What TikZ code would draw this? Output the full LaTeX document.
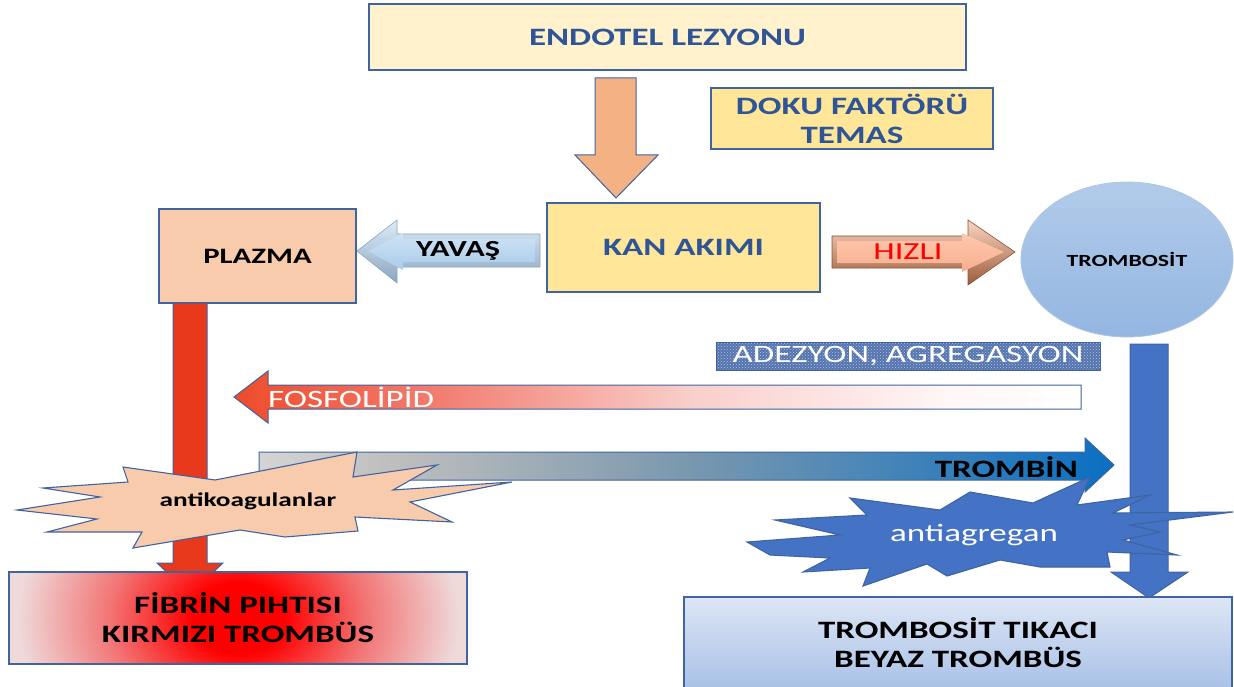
\documentclass[tikz,border=0pt]{standalone}
\usepackage{fontspec}
\setmainfont{Carlito}[FakeStretch=1.4]
\usetikzlibrary{shapes.geometric,patterns}

\definecolor{edgeblue}{HTML}{3F64A0}
\definecolor{textblue}{HTML}{2F5597}
\definecolor{cream}{HTML}{FFF2CC}
\definecolor{softyellow}{HTML}{FFE699}
\definecolor{peachbox}{HTML}{F8CBAD}
\definecolor{peacharrow}{HTML}{F4B183}
\definecolor{redarrow}{HTML}{E8391D}
\definecolor{plateblue}{HTML}{4472C4}
\definecolor{fosred}{HTML}{EE4B2B}
\definecolor{fossalmon}{HTML}{F27D70}
\definecolor{fospink}{HTML}{F9CFCB}
\definecolor{fospale}{HTML}{FFF6F6}
\definecolor{tromgray}{HTML}{D4D4D4}
\definecolor{tromgray2}{HTML}{BEBEBE}
\definecolor{trommid}{HTML}{7A98AE}
\definecolor{tromblue}{HTML}{0A6FC2}
\definecolor{fibmid}{HTML}{F27474}
\definecolor{fibedge}{HTML}{EFD9D9}
\definecolor{slowtop}{HTML}{DDEBF7}
\definecolor{slowbot}{HTML}{8AA6C0}
\definecolor{slowintop}{HTML}{CFE3F5}
\definecolor{slowinbot}{HTML}{A9CBEA}
\definecolor{fasttop}{HTML}{FAD6C4}
\definecolor{fastbot}{HTML}{9C5B3B}
\definecolor{fastintop}{HTML}{FFC9AE}
\definecolor{fastinbot}{HTML}{F6AE8E}
\definecolor{fastedge}{HTML}{8A5030}
\definecolor{celledge}{HTML}{AFC6E0}
\definecolor{celltop}{HTML}{B2CBEA}
\definecolor{cellbot}{HTML}{93B6E1}
\definecolor{denim}{HTML}{5474AE}
\definecolor{denimdots}{HTML}{B4C6E6}
\definecolor{plugtop}{HTML}{DDE6F5}
\definecolor{plugbot}{HTML}{A9C1E7}

% shadings for the gradient arrows and the red clot box
% (a path's bounding box covers the central 25bp--75bp of a shading)
\pgfdeclarehorizontalshading{fosgrad}{100bp}{color(0bp)=(fosred); color(25bp)=(fosred); color(37bp)=(fossalmon); color(52bp)=(fospink); color(67bp)=(fospale); color(75bp)=(white); color(100bp)=(white)}
\pgfdeclarehorizontalshading{tromgrad}{100bp}{color(0bp)=(tromgray); color(25bp)=(tromgray); color(33bp)=(tromgray2); color(50bp)=(trommid); color(75bp)=(tromblue); color(100bp)=(tromblue)}
\pgfdeclareradialshading{redglow}{\pgfpoint{0bp}{0bp}}{color(0bp)=(red); color(5bp)=(red); color(14bp)=(fibmid); color(24bp)=(fibedge); color(50bp)=(fibedge)}

\tikzset{
  box/.style={draw=edgeblue, line width=1.2pt, inner sep=0pt, align=center},
  bigtext/.style={font=\fontsize{25}{29}\selectfont\bfseries},
  plaintext/.style={font=\fontsize{25}{29}\selectfont},
  blockarrow/.style={draw=edgeblue, line width=1pt, line join=miter},
  burst/.style={draw=edgeblue, line width=1.1pt, line join=miter},
}

\begin{document}
\begin{tikzpicture}[x=1pt,y=-1pt]
\useasboundingbox (0,0) rectangle (1234,687);
\fill[white] (0,0) rectangle (1234,687);

% ---- top: lesion, tissue factor, blood flow ----
\node[box, fill=cream, minimum width=597pt, minimum height=66pt, bigtext, text=textblue] (endo) at (667.5,37) {ENDOTEL LEZYONU};
\draw[blockarrow, fill=peacharrow] (595,78) -- (636,78) -- (636,155) -- (658,155) -- (616,198) -- (575,155) -- (595,155) -- cycle;
\node[box, fill=softyellow, minimum width=282pt, minimum height=61pt, bigtext, text=textblue] (doku) at (852,118.5) {DOKU FAKTÖRÜ\\TEMAS};
\node[box, fill=softyellow, minimum width=273pt, minimum height=89pt, bigtext, text=textblue] (kan) at (683.5,247.5) {KAN AKIMI};
\node[box, fill=peachbox, minimum width=197pt, minimum height=94pt, font=\fontsize{22}{26}\selectfont\bfseries] (plazma) at (257.5,256) {PLAZMA};

% ---- slow flow arrow (bevelled) ----
\shadedraw[draw=slowbot, line width=0.6pt, top color=slowtop, bottom color=slowbot] (540,234) -- (397,234) -- (397,220) -- (357,251) -- (397,283) -- (397,267) -- (540,267) -- cycle;
\shade[top color=slowintop, bottom color=slowinbot] (535,239) -- (403,239) -- (403,233) -- (368,251) -- (403,270) -- (403,262) -- (535,262) -- cycle;
\node[font=\fontsize{23}{27}\selectfont\bfseries] (yavas) at (458,251) {YAVAŞ};

% ---- fast flow arrow (bevelled) ----
\shadedraw[draw=fastedge, line width=0.6pt, top color=fasttop, bottom color=fastbot] (832,236) -- (968,236) -- (968,220) -- (1015,252) -- (968,285) -- (968,268) -- (832,268) -- cycle;
\shade[top color=fastintop, bottom color=fastinbot] (837,241) -- (962,241) -- (962,233) -- (1004,252) -- (962,272) -- (962,263) -- (837,263) -- cycle;
\node[font=\fontsize{24.5}{28}\selectfont, text=red] (hizli) at (908,252) {HIZLI};

% ---- platelet ----
\node[ellipse, draw=celledge, line width=0.8pt, top color=celltop, bottom color=cellbot, minimum width=212pt, minimum height=155pt, inner sep=0pt, font=\fontsize{17}{20}\selectfont\bfseries] (trombosit) at (1127,259.5) {TROMBOSİT};

% ---- adhesion / aggregation label ----
\node[draw=edgeblue, line width=1pt, preaction={fill=denim}, pattern=crosshatch dots, pattern color=denimdots, minimum width=384pt, minimum height=28pt, inner sep=0pt, plaintext, text=white] (adez) at (908,356) {ADEZYON, AGREGASYON};

% ---- phospholipid arrow ----
\shadedraw[blockarrow, shading=fosgrad] (1081,385) -- (268,385) -- (268,371) -- (234,397) -- (268,423) -- (268,409) -- (1081,409) -- cycle;
\node[plaintext, text=white, anchor=west, inner sep=0pt] (fosfo) at (268,397) {FOSFOLİPİD};

% ---- plasma to fibrin clot ----
\draw[blockarrow, fill=redarrow] (173,303) -- (207,303) -- (207,563) -- (223,563) -- (190,594) -- (157,563) -- (173,563) -- cycle;

% ---- thrombin arrow ----
\shadedraw[blockarrow, shading=tromgrad] (259,452) -- (1085,452) -- (1085,438) -- (1114,465) -- (1085,492) -- (1085,480) -- (259,480) -- cycle;
\node[bigtext, anchor=east, inner sep=0pt] (trombin) at (1078,467) {TROMBİN};

% ---- anticoagulants burst ----
\filldraw[burst, fill=peachbox] (123,467) -- (215,480) -- (357,452) -- (353,477) -- (437,465) -- (393,490) -- (512,482) -- (410,502) -- (452,522) -- (355,517) -- (358,531) -- (285,537) -- (240,530) -- (133,548) -- (142,532) -- (47,532) -- (97,519) -- (17,510) -- (100,497) -- (43,488) -- (128,482) -- cycle;
\node[font=\fontsize{19.5}{23}\selectfont\bfseries] (antikoag) at (248,501) {antikoagulanlar};

% ---- platelet to platelet plug ----
\draw[blockarrow, fill=plateblue] (1130,344) -- (1168,344) -- (1168,572) -- (1188,572) -- (1149,598) -- (1111,572) -- (1130,572) -- cycle;

% ---- antiaggregants burst ----
\filldraw[burst, fill=plateblue] (747,542) -- (840,535) -- (775,520) -- (867,515) -- (850,498) -- (940,510) -- (970,492) -- (1033,503) -- (1090,477) -- (1077,505) -- (1150,495) -- (1113,513) -- (1233,512) -- (1130,525) -- (1160,532) -- (1123,540) -- (1177,555) -- (1107,552) -- (1110,567) -- (1040,567) -- (1000,560) -- (947,576) -- (927,564) -- (863,586) -- (870,568) -- (803,572) -- (830,558) -- (770,555) -- cycle;
\node[plaintext, text=white] (antiagr) at (974,535) {antiagregan};

% ---- red thrombus ----
\begin{scope}
  \clip (9,572) rectangle (467,664);
  \shade[shading=redglow] (9,440) rectangle (467,796);
\end{scope}
\node[box, minimum width=458pt, minimum height=92pt, bigtext] (fibrin) at (238,618) {FİBRİN PIHTISI\\KIRMIZI TROMBÜS};

% ---- white thrombus ----
\node[box, top color=plugtop, bottom color=plugbot, minimum width=548pt, minimum height=92pt, bigtext] (tikaci) at (958,643) {TROMBOSİT TIKACI\\BEYAZ TROMBÜS};
\end{tikzpicture}
\end{document}
